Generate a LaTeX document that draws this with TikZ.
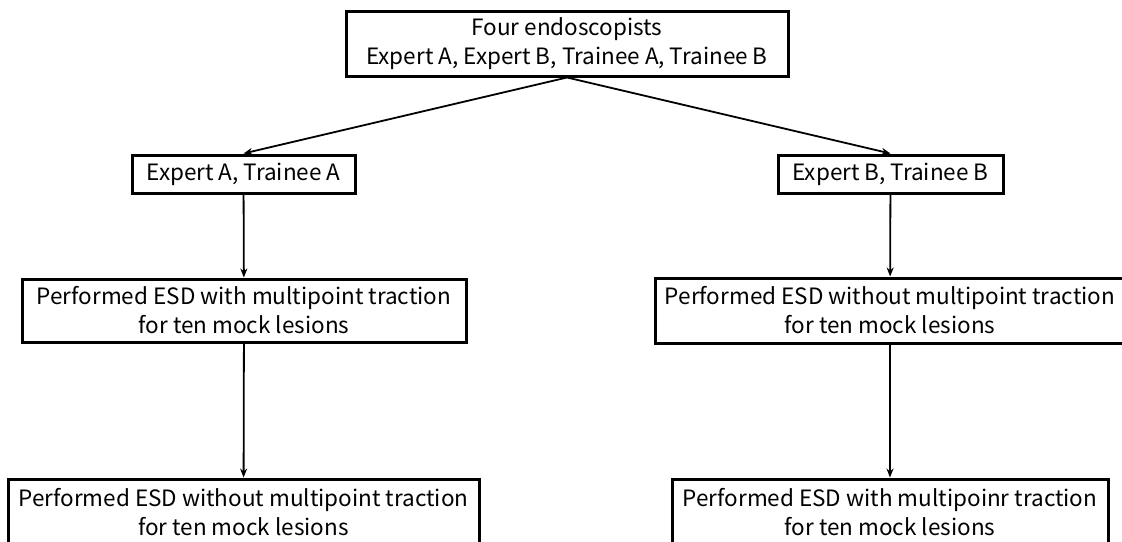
\documentclass[tikz,border=0pt]{standalone}
\usepackage{fontspec}
\setmainfont{Noto Sans CJK JP}
\usetikzlibrary{arrows.meta}

\begin{document}
\begin{tikzpicture}[x=1pt, y=-1pt, anchor=center,
	bloc/.style={draw=black, line width=3pt, fill=white, align=center, inner sep=0pt,
		font=\fontsize{22.5}{29}\selectfont},
	fleche/.style={line width=1.8pt, -{Stealth[length=9pt, width=7pt]}}]

		\useasboundingbox (0,0) rectangle (1122,541);

		%les cases
		\node[bloc, minimum width=442, minimum height=65] (tous) at (567,43.5)
			{Four endoscopists\\Expert A, Expert B, Trainee A, Trainee B};

		\node[bloc, minimum width=223, minimum height=38] (groupeA) at (243.5,174) {Expert A, Trainee A};
		\node[bloc, minimum width=225, minimum height=38] (groupeB) at (890.5,174) {Expert B, Trainee B};

		\node[bloc, minimum width=444, minimum height=63] (avecA) at (244,310.5)
			{Performed ESD with multipoint traction\\for ten mock lesions};
		\node[bloc, minimum width=470, minimum height=65] (sansB) at (890,310.5)
			{Performed ESD without multipoint traction\\for ten mock lesions};

		\node[bloc, minimum width=471, minimum height=66] (sansA) at (243.5,512)
			{Performed ESD without multipoint traction\\for ten mock lesions};
		\node[bloc, minimum width=436, minimum height=66] (avecB) at (890,512)
			{Performed ESD with multipoinr traction\\for ten mock lesions};

		%les fleches
		\draw[fleche] (tous.south) -- (groupeA.north);
		\draw[fleche] (tous.south) -- (groupeB.north);
		\draw[fleche] (groupeA) -- (avecA);
		\draw[fleche] (groupeB) -- (sansB);
		\draw[fleche] (avecA) -- (sansA);
		\draw[fleche] (sansB) -- (avecB);

\end{tikzpicture}
\end{document}
